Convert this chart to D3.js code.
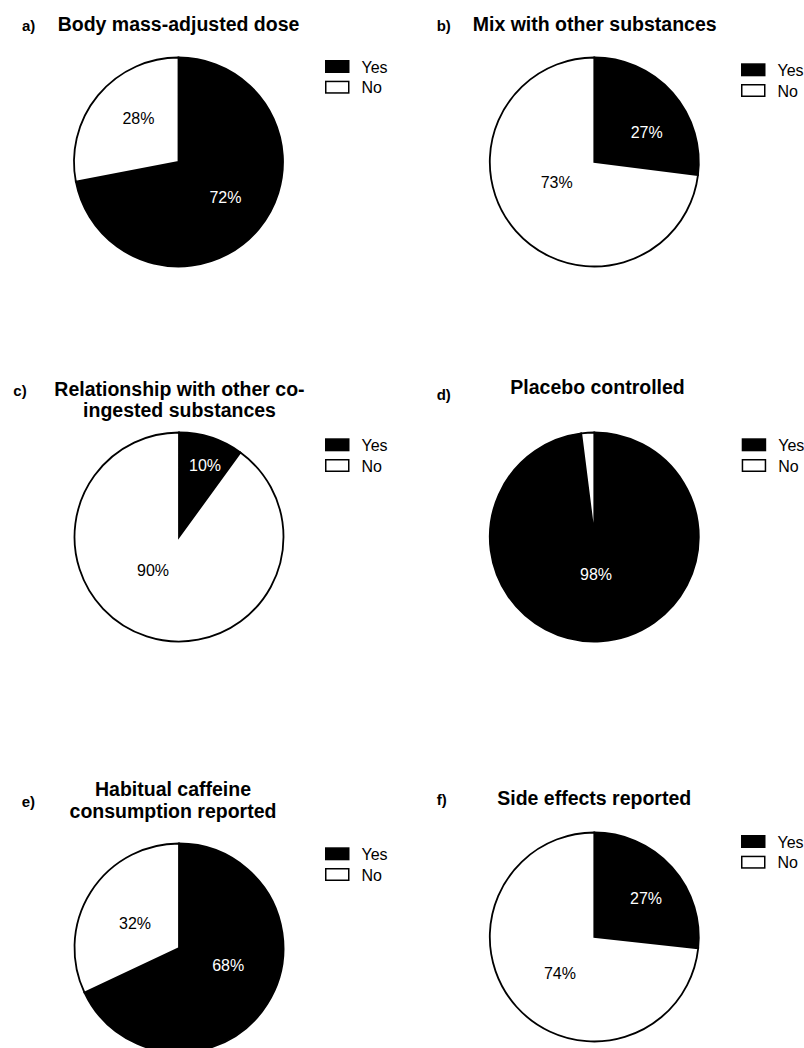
<!DOCTYPE html>
<html>
<head>
<meta charset="utf-8">
<script src="https://cdn.jsdelivr.net/npm/d3@7"></script>
<style>
  html, body { margin: 0; padding: 0; background: #fff; }
  svg { display: block; font-family: "Liberation Sans", Arial, Helvetica, sans-serif; }
</style>
</head>
<body>
<svg id="chart" width="804" height="1048"></svg>
<script>
// ---- data ----
const categories = ["Yes", "No"];
const panelLetters = ["a)", "b)", "c)", "d)", "e)", "f)"];
const titles = [
  ["Body mass-adjusted dose"],
  ["Mix with other substances"],
  ["Relationship with other co-", "ingested substances"],
  ["Placebo controlled"],
  ["Habitual caffeine", "consumption reported"],
  ["Side effects reported"]
];
const yesValues = [72, 27, 10, 98, 68, 27];
const noValues  = [28, 73, 90, 2, 32, 74];

// ---- layout (positions / styles only) ----
const R = 104.5;
const layout = [
  {cx: 178.5, cy: 162,   lx: 22,    ly: 31,    tx: 178.5, ty: [31],       gx: 325,   gy: 60},
  {cx: 594.3, cy: 162,   lx: 436.7, ly: 31,    tx: 594.7, ty: [31],       gx: 741,   gy: 63.3},
  {cx: 179,   cy: 537,   lx: 13.3,  ly: 395.5, tx: 179.5, ty: [396, 417], gx: 325,   gy: 438.3},
  {cx: 594.3, cy: 537,   lx: 436.7, ly: 400,   tx: 597.5, ty: [394],      gx: 741.7, gy: 438.3},
  {cx: 179,   cy: 948,   lx: 21.7,  ly: 807,   tx: 173,   ty: [796, 818], gx: 325,   gy: 847.3},
  {cx: 594.3, cy: 937,   lx: 436.7, ly: 805.3, tx: 594.2, ty: [805],      gx: 741,   gy: 835}
];
// label placement: [angle in degrees clockwise from 12 o'clock, radius px] per slice
const labelPolar = [
  [[126.7, 58.6], [317.7, 59.5]],
  [[60.2, 60.4],  [242, 42.6]],
  [[19.9, 76.6],  [218.2, 42]],
  [[177.4, 37.3], null],
  [[109, 52],     [299.6, 50.6]],
  [[53.2, 64.6],  [223.4, 50]]
];

const color = d3.scaleOrdinal().domain(categories).range(["#000000", "#ffffff"]);
const textColor = d3.scaleOrdinal().domain(categories).range(["#ffffff", "#000000"]);

const svg = d3.select("#chart");
const pie = d3.pie().sort(null).value(d => d.value);
const arc = d3.arc().innerRadius(0).outerRadius(R);

panelLetters.forEach((letter, i) => {
  const L = layout[i];
  const data = categories.map((c, k) => ({cat: c, value: k === 0 ? yesValues[i] : noValues[i]}));
  const total = d3.sum(data, d => d.value);

  // panel letter
  svg.append("text")
    .attr("x", L.lx).attr("y", L.ly)
    .attr("font-size", 15).attr("font-weight", "bold")
    .attr("fill", "#000")
    .text(letter);

  // title lines
  titles[i].forEach((line, j) => {
    svg.append("text")
      .attr("x", L.tx).attr("y", L.ty[j])
      .attr("text-anchor", "middle")
      .attr("font-size", 19.5).attr("font-weight", "bold")
      .attr("fill", "#000")
      .text(line);
  });

  // pie
  const g = svg.append("g").attr("transform", `translate(${L.cx},${L.cy})`);
  const arcs = pie(data);
  g.selectAll("path.slice")
    .data(arcs)
    .join("path")
    .attr("class", "slice")
    .attr("d", arc)
    .attr("fill", d => color(d.data.cat))
    .attr("stroke", "#000")
    .attr("stroke-width", 1.8)
    .attr("stroke-linejoin", "miter");

  // labels
  arcs.forEach((a, k) => {
    const pol = labelPolar[i][k];
    if (!pol) return;
    const [x, y] = d3.pointRadial(pol[0] * Math.PI / 180, pol[1]);
    g.append("text")
      .attr("x", x).attr("y", y)
      .attr("dy", "0.36em")
      .attr("text-anchor", "middle")
      .attr("font-size", 16)
      .attr("fill", textColor(a.data.cat))
      .text(Math.round(a.data.value) + "%");
  });

  // legend
  const lg = svg.append("g").attr("transform", `translate(${L.gx},${L.gy})`);
  categories.forEach((c, k) => {
    lg.append("rect")
      .attr("x", 0.75).attr("y", k * 20.7 + 0.75)
      .attr("width", 23).attr("height", 11.5)
      .attr("fill", color(c))
      .attr("stroke", "#000").attr("stroke-width", 1.5);
    lg.append("text")
      .attr("x", 36.5).attr("y", k * 20.7 + 12.7)
      .attr("font-size", 16)
      .attr("fill", "#000")
      .text(c);
  });
});
</script>
</body>
</html>
